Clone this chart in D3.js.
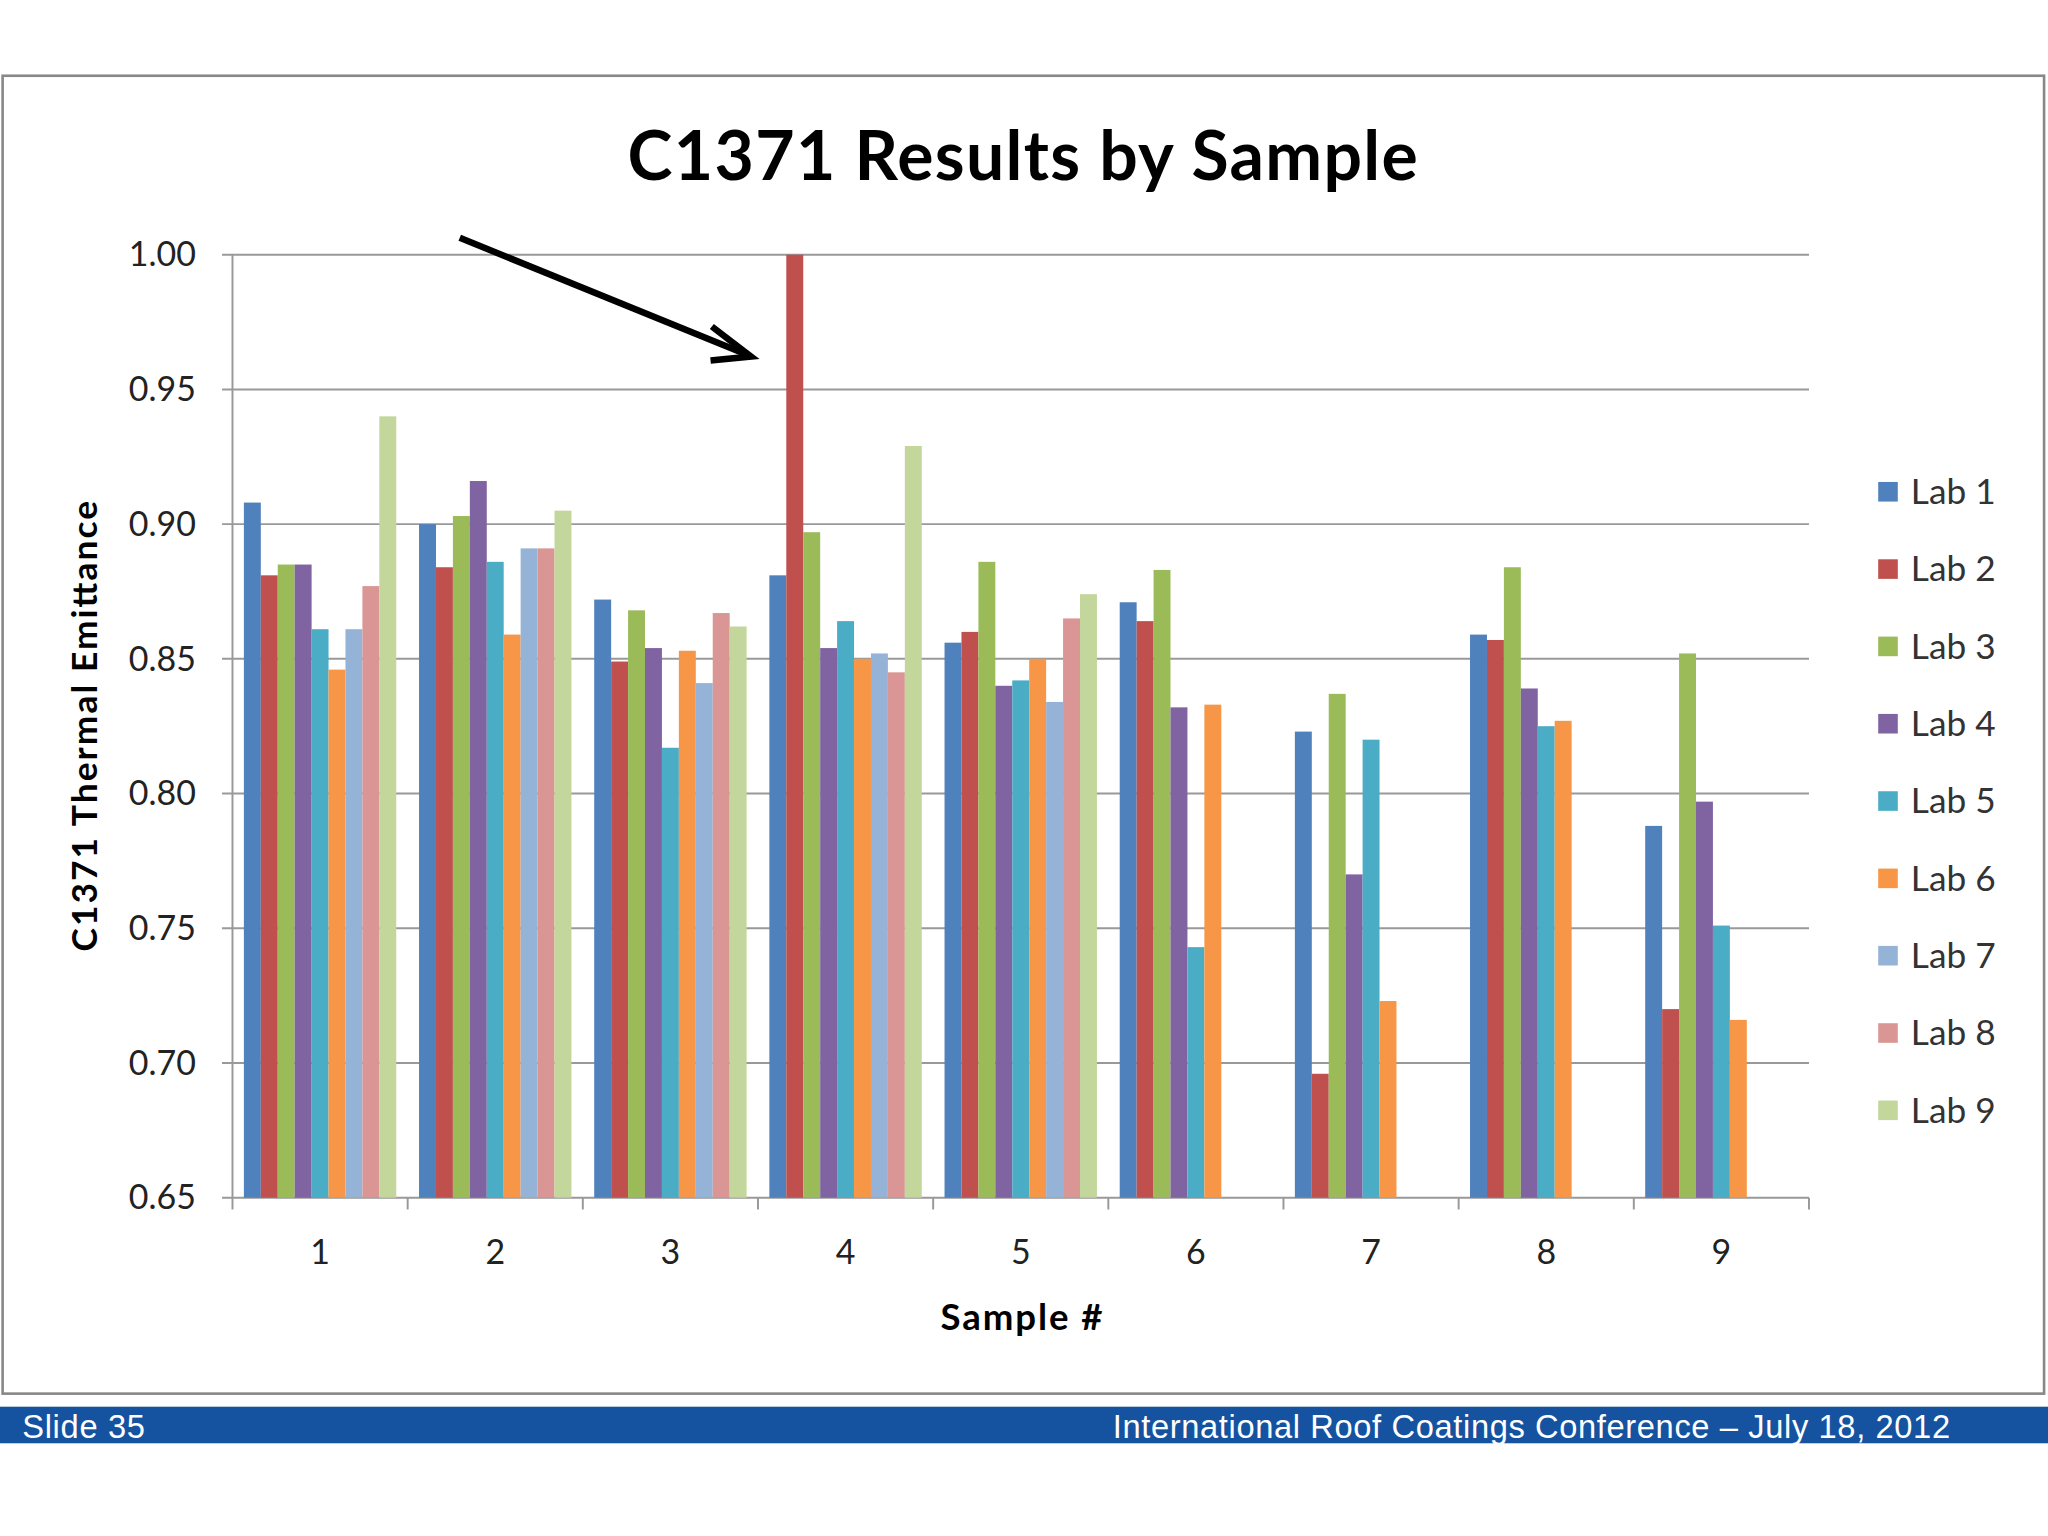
<!DOCTYPE html>
<html><head><meta charset="utf-8">
<script src="https://cdn.jsdelivr.net/npm/d3@7"></script>
<style>body{margin:0;background:#fff}text{font-family:Lato,"Open Sans",sans-serif}</style>
</head><body><svg id="c"></svg>
<script>
// Chart data.
const samples = ["1","2","3","4","5","6","7","8","9"];
const labs = ["Lab 1","Lab 2","Lab 3","Lab 4","Lab 5","Lab 6","Lab 7","Lab 8","Lab 9"];
const lab1 = [0.908,0.900,0.872,0.881,0.856,0.871,0.823,0.859,0.788];
const lab2 = [0.881,0.884,0.849,1.000,0.860,0.864,0.696,0.857,0.720];
const lab3 = [0.885,0.903,0.868,0.897,0.886,0.883,0.837,0.884,0.852];
const lab4 = [0.885,0.916,0.854,0.854,0.840,0.832,0.770,0.839,0.797];
const lab5 = [0.861,0.886,0.817,0.864,0.842,0.743,0.820,0.825,0.751];
const lab6 = [0.846,0.859,0.853,0.850,0.850,0.833,0.723,0.827,0.716];
const lab7 = [0.861,0.891,0.841,0.852,0.834,null,null,null,null];
const lab8 = [0.877,0.891,0.867,0.845,0.865,null,null,null,null];
const lab9 = [0.940,0.905,0.862,0.929,0.874,null,null,null,null];
const yTicks = [0.65,0.70,0.75,0.80,0.85,0.90,0.95,1.00];
const colors = ["#4F81BD","#C0504D","#9BBB59","#8064A2","#4BACC6","#F79646","#95B3D7","#D99694","#C3D69B"];
const series = [lab1,lab2,lab3,lab4,lab5,lab6,lab7,lab8,lab9];

const svg = d3.select("#c").attr("width",2048).attr("height",1536).attr("viewBox","0 0 1568 1176");
const L = 178, R = 1385, T = 195, B = 917;

// Slide frame and footer.
svg.append("rect").attr("x",2).attr("y",58).attr("width",1563).attr("height",1009)
  .attr("fill","#fff").attr("stroke","#888").attr("stroke-width",2);
svg.append("rect").attr("x",0).attr("y",1077).attr("width",1568).attr("height",28).attr("fill","#1553a0");
svg.append("text").attr("x",17).attr("y",1101).attr("fill","#fff").attr("font-size",25)
  .attr("textLength",94).style("font-family","'Liberation Sans',Arial").text("Slide 35");
svg.append("text").attr("x",852).attr("y",1101).attr("fill","#fff").attr("font-size",25)
  .attr("textLength",641).style("font-family","'Liberation Sans',Arial")
  .text("International Roof Coatings Conference \u2013 July 18, 2012");

// Scales.
const x = d3.scaleBand().domain(samples).range([L,R]);
const xi = d3.scaleBand().domain(labs).range([x.bandwidth()*0.065, x.bandwidth()*0.935]);
const y = d3.scaleLinear().domain([0.65,1.0]).range([B,T]);

// Grid.
svg.append("g").selectAll("line").data(yTicks).join("line")
  .attr("x1",L-8).attr("x2",R).attr("y1",d=>y(d)).attr("y2",d=>y(d))
  .attr("stroke","#999").attr("stroke-width",1.5);
svg.append("line").attr("x1",L).attr("x2",L).attr("y1",T).attr("y2",B).attr("stroke","#999").attr("stroke-width",1.5);
svg.append("g").selectAll("line").data(d3.range(samples.length+1)).join("line")
  .attr("x1",i=>L+i*x.step()).attr("x2",i=>L+i*x.step()).attr("y1",B).attr("y2",B+9)
  .attr("stroke","#999").attr("stroke-width",1.5);

// Bars.
series.forEach((s,j)=>{
  svg.append("g").selectAll("rect").data(samples.map((c,i)=>({c,v:s[i]})).filter(d=>d.v!=null)).join("rect")
    .attr("x",d=>x(d.c)+xi(labs[j])).attr("width",xi.bandwidth())
    .attr("y",d=>y(d.v)).attr("height",d=>B-y(d.v)).attr("fill",colors[j]);
});

// Axis labels.
svg.append("g").selectAll("text").data(yTicks).join("text")
  .attr("x",150).attr("y",d=>y(d)+9).attr("text-anchor","end").attr("font-size",26).attr("fill","#222")
  .text(d=>d.toFixed(2));
svg.append("g").selectAll("text").data(samples).join("text")
  .attr("x",d=>x(d)+x.bandwidth()/2).attr("y",968).attr("text-anchor","middle").attr("font-size",26).attr("fill","#222")
  .text(d=>d);
svg.append("text").attr("x",782).attr("y",1018).attr("text-anchor","middle").attr("font-size",28)
  .attr("font-weight","bold").attr("textLength",124).text("Sample #");
svg.append("text").attr("transform","translate(74,556) rotate(-90)").attr("text-anchor","middle")
  .attr("font-size",27).attr("font-weight","bold").attr("textLength",345).text("C1371 Thermal Emittance");
svg.append("text").attr("x",783).attr("y",138).attr("text-anchor","middle").attr("font-size",52)
  .attr("font-weight","bold").attr("textLength",605).text("C1371 Results by Sample");

// Legend.
const lg = svg.append("g").selectAll("g").data(labs).join("g")
  .attr("transform",(d,i)=>`translate(1438,${377+59.2*i})`);
lg.append("rect").attr("x",0).attr("y",-8).attr("width",15).attr("height",15).attr("fill",(d,i)=>colors[i]);
lg.append("text").attr("x",25).attr("y",9).attr("font-size",27).attr("fill","#333").text(d=>d);

// Arrow.
svg.append("line").attr("x1",352).attr("y1",182).attr("x2",573).attr("y2",272).attr("stroke","#000").attr("stroke-width",5);
svg.append("path").attr("d","M545,250 L575,273 L544,276").attr("fill","none").attr("stroke","#000").attr("stroke-width",5);
</script></body></html>
